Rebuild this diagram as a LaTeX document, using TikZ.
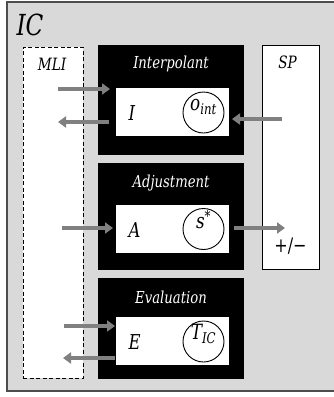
\documentclass[tikz,border=0pt]{standalone}
\usepackage{fontspec}
\setmainfont{DejaVu Serif}[FakeStretch=0.8]
\usepackage{tikz}
\usetikzlibrary{positioning}
\usetikzlibrary{arrows.meta}

\definecolor{panelgray}{HTML}{D9D9D9}
\definecolor{rimgray}{HTML}{4D4D4D}
\definecolor{flowgray}{HTML}{808080}

\tikzset{
	stage/.style={fill=black, inner sep=0pt, outer sep=0pt, minimum width=146pt},
	slot/.style={fill=white, inner sep=0pt, outer sep=0pt, minimum width=113pt, minimum height=48pt},
	title/.style={white, anchor=base, font=\fontsize{16.5}{18}\selectfont\itshape},
	sym/.style={anchor=base west, font=\fontsize{20.5}{22}\selectfont\itshape},
	ring/.style={circle, draw, line width=0.9pt, minimum size=41pt, inner sep=0pt, font=\fontsize{21}{23}\selectfont\itshape},
	flow/.style={flowgray, line width=4pt, -{Triangle[length=8pt,width=11pt]}},
}

\begin{document}
\begin{tikzpicture}[x=1pt, y=-1pt]
	\useasboundingbox (0,0) rectangle (333,397);

%frame
	\node[draw=rimgray, line width=1.5pt, fill=panelgray, inner sep=0pt, outer sep=0pt,
		minimum width=340pt, minimum height=389pt, anchor=north west] (ic) at (7,2) {};
	\node[anchor=base, font=\fontsize{29}{31}\selectfont\itshape] (iclabel) at (30,35) {IC};

%MLI, SP
	\node[draw, dashed, dash pattern=on 4pt off 2.5pt, line width=0.8pt, fill=white,
		inner sep=0pt, outer sep=0pt, minimum width=60pt, minimum height=331pt] (mli) at (53,212.5) {};
	\node[anchor=base, font=\fontsize{17}{19}\selectfont\itshape] (mlilabel) at (52,70) {MLI};

	\node[draw, line width=0.8pt, fill=white, inner sep=0pt, outer sep=0pt,
		minimum width=57pt, minimum height=224pt] (sp) at (290.5,157) {};
	\node[anchor=base, font=\fontsize{17}{19}\selectfont\itshape] (splabel) at (287.5,68) {SP};
	\node[font=\fontsize{20}{22}\selectfont] (sign) at (290.5,246) {+/−};

%stages
	\foreach \name/\ttl/\cy/\ht/\ty/\sy/\letter/\val in {
		{interp/Interpolant/100/110/68/112/I/o\textsubscript{int}},
		{adjust/Adjustment/216.5/107/187/228.5/A/s\textsuperscript{\upshape *}},
		{eval/Evaluation/328.5/101/303/341/E/T\textsubscript{IC}}} {
		\node[stage, minimum height=\ht pt] (\name) at (171,\cy) {};
		\node[title] (\name-title) at (171,\ty) {\ttl};
		\node[slot] (\name-slot) at (172.5,\sy) {};
		\node[sym] (\name-sym) at (125,\sy+8.5) {\letter};
		\node[ring] (\name-ring) at (203.5,\sy+0.5) {\val};
	}

%arrows
	\coordinate (mliA) at (58,89);
	\coordinate (mliB) at (58,122);
	\coordinate (mliC) at (62,228);
	\coordinate (mliD) at (64,326);
	\coordinate (mliE) at (63,358);
	\coordinate (spA) at (282,119);
	\coordinate (spB) at (285,228);

	\draw[flow, shorten >=6pt] (mliA) -- (interp-slot.west |- mliA);
	\draw[flow, shorten <=7pt] (interp-slot.west |- mliB) -- (mliB);
	\draw[flow, shorten >=3pt] (spA) -- (interp-slot.east |- spA);
	\draw[flow, shorten >=3pt] (mliC) -- (adjust-slot.west |- mliC);
	\draw[flow, shorten <=5pt] (adjust-slot.east |- spB) -- (spB);
	\draw[flow, shorten >=1pt] (mliD) -- (eval-slot.west |- mliD);
	\draw[flow, shorten <=1pt] (eval-slot.west |- mliE) -- (mliE);

\end{tikzpicture}
\end{document}
